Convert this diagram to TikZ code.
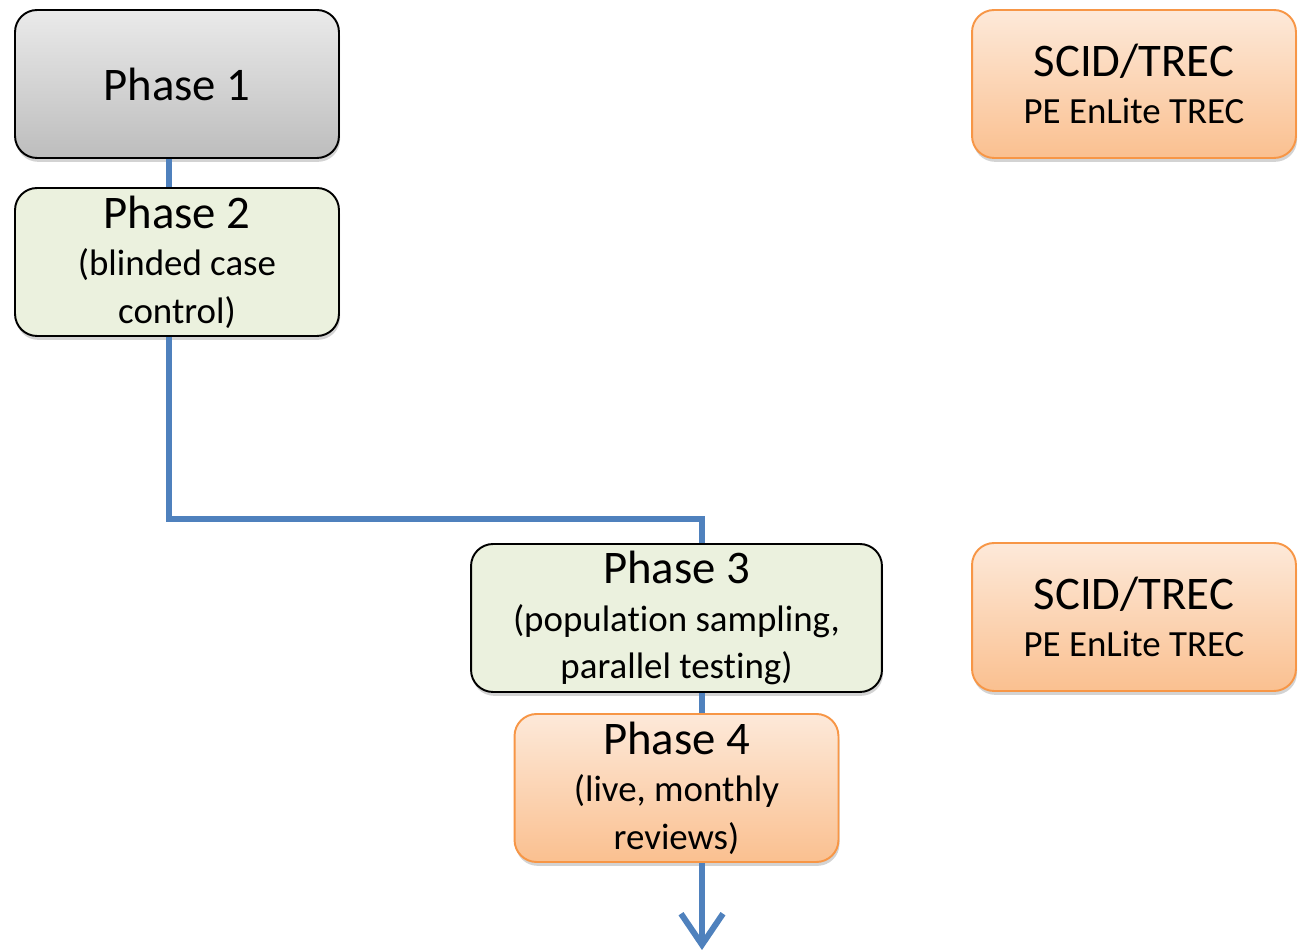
\documentclass[tikz,border=0pt]{standalone}
\usepackage{fontspec}
\setmainfont[Ligatures=NoCommon]{Carlito}
\usetikzlibrary{arrows.meta,shadows}

\definecolor{phasegreen}{HTML}{EBF1DE}
\definecolor{graytop}{HTML}{EAEAEA}
\definecolor{graybottom}{HTML}{BDBDBD}
\definecolor{orangetop}{HTML}{FDE9D9}
\definecolor{orangebottom}{HTML}{FAC090}
\definecolor{orangeline}{HTML}{F79646}
\definecolor{flowblue}{HTML}{4F81BD}

\tikzset{
    phasebox/.style={draw=black, line width=1.1pt, rounded corners=0.44cm,
        minimum width=6.48cm, minimum height=2.96cm, align=center, inner sep=2pt,
        font=\fontsize{21}{27}\selectfont,
        drop shadow={shadow xshift=0.6pt, shadow yshift=-2.2pt, opacity=0.35}},
    graybox/.style={phasebox, top color=graytop, bottom color=graybottom},
    greenbox/.style={phasebox, fill=phasegreen},
    orangebox/.style={phasebox, draw=orangeline, top color=orangetop, bottom color=orangebottom},
    flow/.style={draw=flowblue, line width=3.4pt}
}
\newcommand{\phasetitle}[1]{{\fontsize{26.6}{30}\selectfont #1}}

\begin{document}
\begin{tikzpicture}[x=0.02cm, y=-0.02cm]

    \useasboundingbox (0,0) rectangle (1303,952);

    \node[graybox] (phaseone) at (177,84) {\phasetitle{Phase 1}};
    \node[greenbox] (phasetwo) at (177,262) {\phasetitle{Phase 2}\\(blinded case\\control)};
    \node[greenbox, minimum width=8.22cm] (phasethree) at (676.5,618) {\phasetitle{Phase 3}\\(population sampling,\\parallel testing)};
    \node[orangebox] (phasefour) at (676.5,788) {\phasetitle{Phase 4}\\(live, monthly\\reviews)};

    \node[orangebox] (screenone) at (1134,84) {\phasetitle{SCID/TREC}\\PE EnLite TREC};
    \node[orangebox] (screentwo) at (1134,617) {\phasetitle{SCID/TREC}\\PE EnLite TREC};

    % lanes of the blue line
    \coordinate (laneleft) at (169,0);
    \coordinate (bend) at (702,519);
    \coordinate (tail) at (702,950);

    \draw[flow] (phaseone.south -| laneleft) -- (phasetwo.north -| laneleft);
    \draw[flow] (phasetwo.south -| laneleft) |- (bend) -- (phasethree.north -| bend);
    \draw[flow] (phasethree.south -| bend) -- (phasefour.north -| bend);
    \draw[flow, -{Straight Barb[length=0.62cm, width=0.84cm]}] (phasefour.south -| bend) -- (tail);

\end{tikzpicture}
\end{document}
